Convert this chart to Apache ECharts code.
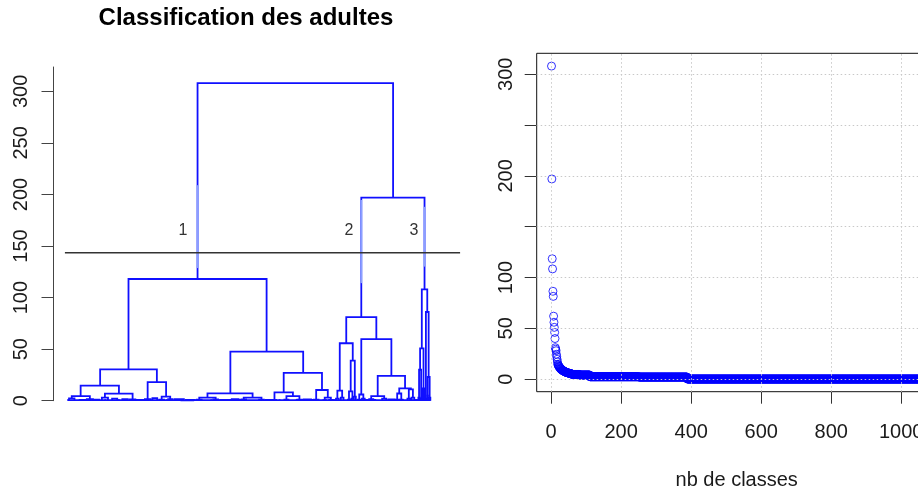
<!DOCTYPE html>
<html><head><meta charset="utf-8">
<script src="https://cdn.jsdelivr.net/npm/echarts@6/dist/echarts.min.js"></script>
<style>html,body{margin:0;padding:0;background:#fff}#c{width:918px;height:494px}</style>
</head><body><div id="c"></div>
<script>
// ---------- data ----------
const title = 'Classification des adultes';
const yTicksLeft = [0, 50, 100, 150, 200, 250, 300];
// dendrogram merges: [x left child, x right child, merge height, left child height, right child height]
const merges = [
  [380, 952, 308, 118, 197],
  [178, 582, 118, 30.4, 47.5],
  [95, 261, 30.4, 14.6, 18],
  [38, 150, 14.6, 4.5, 6.8],
  [12, 65, 4.5, 2.2, 1.5],
  [109, 190, 6.8, 3, 1.2],
  [234, 288, 18, 1.6, 4],
  [275, 300, 4, 1, 1.5],
  [476, 689, 47.5, 7.2, 27],
  [409, 541, 7.2, 3, 3],
  [385, 433, 3, 1, 1.2],
  [515, 567, 3, 1.2, 1],
  [632, 744, 27, 8, 10.4],
  [605, 659, 8, 0.7, 4.5],
  [640, 678, 4.5, 1, 1],
  [727, 761, 10.4, 1, 3],
  [752, 770, 3, 0.5, 0.8],
  [859, 1044, 197, 81, 108],
  [815, 903, 81, 55.7, 59.8],
  [796, 834, 55.7, 9.7, 38.8],
  [789, 803, 9.7, 2, 3],
  [828, 840, 38.8, 9, 4],
  [823, 833, 9, 1, 2],
  [859, 947, 59.8, 6, 24],
  [853, 865, 6, 1, 2],
  [907, 987, 24, 4.5, 12],
  [888, 926, 4.5, 1.5, 2],
  [970, 1004, 12, 7, 11],
  [964, 976, 7, 1, 1],
  [998, 1010, 11, 2, 3],
  [1036, 1052, 108, 50.8, 86],
  [1031, 1041, 50.8, 30, 12],
  [1028, 1034, 30, 3, 2],
  [1039, 1043, 12, 2, 1],
  [1048, 1056, 86, 2, 23],
  [1053, 1059, 23, 5, 3]
];
// lowest merges (children are leaves at height 0): [x left, x right, height]
const leafMerges = [
  [4, 20, 2.2], [56, 74, 1.5], [100, 118, 3], [182, 198, 1.2], [226, 243, 1.6], [268, 282, 1], [294, 306, 1.5],
  [378, 392, 1], [426, 440, 1.2], [508, 522, 1.2], [560, 574, 1], [600, 610, 0.7], [634, 646, 1], [672, 684, 1],
  [720, 734, 1], [748, 756, 0.5], [765, 775, 0.8], [785, 793, 2], [799, 807, 3], [820, 826, 1], [830, 836, 2],
  [837, 843, 4], [849, 857, 1], [861, 869, 2], [882, 894, 1.5], [920, 932, 2], [960, 968, 1], [972, 980, 1],
  [994, 1002, 2], [1006, 1014, 3], [1026, 1030, 3], [1032, 1036, 2], [1037, 1041, 2], [1042, 1044, 1],
  [1046, 1050, 2], [1052, 1054, 5], [1057, 1061, 3],
  [78, 92, 1], [204, 220, 0.8], [312, 340, 1.4], [346, 372, 0.8], [446, 470, 0.8], [480, 500, 1.5],
  [580, 598, 0.8], [690, 712, 1.2], [778, 786, 0.6], [872, 880, 0.8], [938, 956, 1.2], [1016, 1022, 0.6],
  [130, 145, 2], [160, 176, 1.6], [248, 262, 2.5],
  [1, 35, 0.5], [35, 70, 0.7], [70, 110, 0.5], [110, 150, 0.6], [150, 200, 0.5], [200, 240, 0.7],
  [240, 290, 0.5], [290, 330, 0.6], [330, 370, 0.4], [370, 420, 0.6], [420, 470, 0.5], [470, 520, 0.7],
  [520, 570, 0.5], [570, 620, 0.6], [620, 670, 0.5], [670, 720, 0.7], [720, 770, 0.5], [770, 820, 0.6],
  [820, 860, 0.5], [860, 900, 0.7], [900, 940, 0.5], [940, 980, 0.6], [980, 1020, 0.5], [1020, 1060, 0.6]
];
// lighter-coloured stretches of the three cluster branches: [x, top height, bottom height]
const lighterSegments = [[380, 209, 128.6], [859, 194.6, 114], [1044, 188, 130]];
const cutHeight = 143.5, cutFrom = -8, cutTo = 1148;
const clusterLabels = ['1', '2', '3'];
const clusterLabelX = [337, 823, 1013];
const clusterLabelHeight = 165;

// right panel: merge heights sorted decreasingly, vs number of classes
const headHeights = [
  308, 197, 118.5, 108.5, 86.5, 81.5, 62, 56, 51, 46,
  40, 31, 29.5, 28, 24.5, 22, 19.5, 17, 14.7, 14,
  13.3, 12.7, 12.2, 11.7, 11.2, 10.8, 10.4, 10, 9.7, 9.4,
  9.1, 8.8, 8.6, 8.4, 8.2, 8, 7.8, 7.6, 7.4, 7.2,
  7, 6.9, 6.8, 6.6, 6.5, 6.4, 6.3, 6.2, 6.1, 6,
  5.9, 5.8, 5.7, 5.6, 5.5, 5.4, 5.3, 5.2, 5.1, 5
];
// remaining heights as [count, height] runs
const tailRuns = [[20, 4.6], [30, 4.1], [140, 2.4], [138, 2.1], [671, 0.15]];
const xTicksRight = [0, 200, 400, 600, 800, 1000];
const yTicksRight = [0, 50, 100, 150, 200, 250, 300];
const yLabelsRight = [0, 50, 100, 200, 300];
const xAxisName = 'nb de classes';

// ---------- build ----------
const FF = '"Liberation Sans", Arial, sans-serif';
const heights = headHeights.slice();
tailRuns.forEach(([n, v]) => { for (let i = 0; i < n; i++) heights.push(v); });
const scatterData = heights.map((v, i) => [i + 1, v]);
const leafData = leafMerges.map(m => [m[0], m[1], m[2], 0, 0]);
const BLUE = '#1010ff';
const plain = v => String(v);

function renderMerge(params, api) {
  const xL = api.value(0), xR = api.value(1), h = api.value(2), hL = api.value(3), hR = api.value(4);
  return {
    type: 'polyline', silent: true,
    shape: { points: [api.coord([xL, hL]), api.coord([xL, h]), api.coord([xR, h]), api.coord([xR, hR])] },
    style: { stroke: BLUE, lineWidth: 1.8, fill: null }
  };
}

const chart = echarts.init(document.getElementById('c'), null, { renderer: 'canvas' });
chart.setOption({
  animation: false,
  backgroundColor: '#fff',
  graphic: [{
    type: 'text', x: 246, y: 18,
    style: { text: title, font: 'bold 24px ' + FF, fill: '#000', align: 'center', verticalAlign: 'middle' }
  }],
  grid: [
    { left: 53.5, top: 67, width: 391, height: 333.7, show: false, outerBoundsMode: 'none', containLabel: false },
    { left: 536.7, top: 53.3, width: 400, height: 338.4, show: true, borderColor: '#111', borderWidth: 1,
      backgroundColor: 'transparent', outerBoundsMode: 'none', containLabel: false }
  ],
  xAxis: [
    { gridIndex: 0, type: 'value', min: -41.4, max: 1102.4, show: false },
    { gridIndex: 1, type: 'value', min: -41.3, max: 1101.3,
      axisLine: { show: false, onZero: false },
      axisTick: { show: true, length: 12, customValues: xTicksRight, lineStyle: { color: '#333', width: 1 } },
      axisLabel: { customValues: xTicksRight, formatter: plain, fontSize: 20, fontFamily: FF, color: '#1a1a1a', margin: 31 },
      splitLine: { show: false },
      name: xAxisName, nameLocation: 'middle', nameGap: 79,
      nameTextStyle: { fontSize: 20, fontFamily: FF, color: '#1a1a1a' } }
  ],
  yAxis: [
    { gridIndex: 0, type: 'value', min: 0, max: 323.6,
      axisLine: { show: true, onZero: false, lineStyle: { color: '#444', width: 1 } },
      axisTick: { show: true, length: 12, customValues: yTicksLeft, lineStyle: { color: '#444', width: 1 } },
      axisLabel: { customValues: yTicksLeft, formatter: plain, rotate: 90, fontSize: 20, fontFamily: FF, color: '#1a1a1a', margin: 22.5 },
      splitLine: { show: false } },
    { gridIndex: 1, type: 'value', min: -12.3, max: 320.6,
      axisLine: { show: false, onZero: false },
      axisTick: { show: true, length: 12, customValues: yTicksRight, lineStyle: { color: '#333', width: 1 } },
      axisLabel: { customValues: yLabelsRight, formatter: plain, rotate: 90, fontSize: 20, fontFamily: FF, color: '#1a1a1a', margin: 20.5 },
      splitLine: { show: false } }
  ],
  series: [
    { type: 'custom', xAxisIndex: 0, yAxisIndex: 0, clip: false, silent: true,
      dimensions: ['xL', 'xR', 'h', 'hL', 'hR'], encode: { x: [0, 1], y: [2, 3, 4] },
      renderItem: renderMerge, data: leafData },
    { type: 'custom', xAxisIndex: 0, yAxisIndex: 0, clip: false, silent: true,
      dimensions: ['xL', 'xR', 'h', 'hL', 'hR'], encode: { x: [0, 1], y: [2, 3, 4] },
      renderItem: renderMerge, data: merges },
    { type: 'custom', xAxisIndex: 0, yAxisIndex: 0, clip: false, silent: true,
      dimensions: ['x', 'top', 'bottom'], encode: { x: 0, y: [1, 2] },
      renderItem: function (params, api) {
        const a = api.coord([api.value(0), api.value(1)]), b = api.coord([api.value(0), api.value(2)]);
        return { type: 'line', silent: true, shape: { x1: a[0], y1: a[1], x2: b[0], y2: b[1] },
          style: { stroke: '#8aa0ff', lineWidth: 1.8 } };
      }, data: lighterSegments },
    { type: 'custom', xAxisIndex: 0, yAxisIndex: 0, clip: false, silent: true,
      dimensions: ['x0', 'x1', 'h'], encode: { x: [0, 1], y: 2 },
      renderItem: function (params, api) {
        const a = api.coord([api.value(0), api.value(2)]), b = api.coord([api.value(1), api.value(2)]);
        return { type: 'line', silent: true, shape: { x1: a[0], y1: a[1], x2: b[0], y2: b[1] },
          style: { stroke: '#333', lineWidth: 1.4 } };
      }, data: [[cutFrom, cutTo, cutHeight]] },
    { type: 'custom', xAxisIndex: 0, yAxisIndex: 0, clip: false, silent: true,
      dimensions: ['x', 'y', 'i'], encode: { x: 0, y: 1 },
      renderItem: function (params, api) {
        const p = api.coord([api.value(0), api.value(1)]);
        return { type: 'text', silent: true, x: p[0], y: p[1],
          style: { text: clusterLabels[api.value(2)], font: '16px ' + FF, fill: '#333', align: 'center', verticalAlign: 'middle' } };
      }, data: clusterLabelX.map((x, i) => [x, clusterLabelHeight, i]) },
    { type: 'scatter', xAxisIndex: 1, yAxisIndex: 1, silent: true, symbol: 'circle', symbolSize: 8,
      itemStyle: { color: 'rgba(0,0,0,0)', borderColor: '#0000ff', borderWidth: 1 },
      data: scatterData,
      markLine: { silent: true, symbol: ['none', 'none'], label: { show: false }, animation: false,
        lineStyle: { color: '#c8c8c8', type: [1.5, 2.5], width: 1 },
        emphasis: { disabled: true },
        data: xTicksRight.map(v => ({ xAxis: v })).concat(yTicksRight.map(v => ({ yAxis: v }))) } }
  ]
});
</script></body></html>
